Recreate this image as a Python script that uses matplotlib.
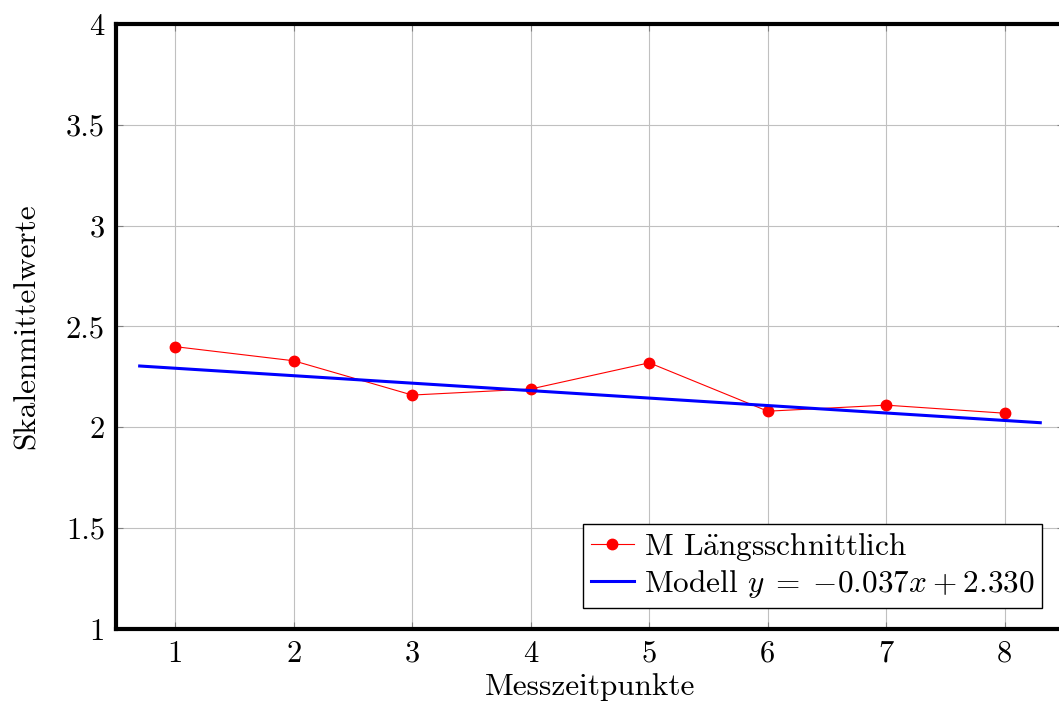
import matplotlib
matplotlib.use("Agg")
import matplotlib.pyplot as plt
import numpy as np

# Messzeitpunkte und Mittelwerte
zeitpunkte = [1, 2, 3, 4, 5, 6, 7, 8]
mittelwerte = [2.40, 2.33, 2.16, 2.19, 2.32, 2.08, 2.11, 2.07]
steigung = -0.037
achse = 2.330
modell_x = [0.7, 8.3]
yticks = [1, 1.5, 2, 2.5, 3, 3.5, 4]

plt.rcParams['font.family'] = ['cmr10', 'DejaVu Serif']
plt.rcParams['mathtext.fontset'] = 'cm'
plt.rcParams['axes.unicode_minus'] = False
plt.rcParams['font.size'] = 22.5

fig = plt.figure(figsize=(10.59, 7.08), dpi=100)
ax = fig.add_axes([0.1095, 0.1116, 0.8952, 0.8545])

ax.grid(True, color="#c0c0c0", linewidth=0.8)
ax.set_axisbelow(True)

ax.plot(zeitpunkte, mittelwerte, color="red", linewidth=0.8, marker="o",
        markersize=7.5, label=r"M L$\ddot{\mathrm{a}}$ngsschnittlich")
mx = np.array(modell_x)
ax.plot(mx, steigung * mx + achse, color="blue", linewidth=2.2,
        label=r"Modell $y\;=\;{-}0.037x\:+\:2.330$")

ax.set_xlim(0.5, 8.5)
ax.set_ylim(1, 4)
ax.set_xticks(zeitpunkte)
ax.set_xticklabels([str(z) for z in zeitpunkte])
ax.set_yticks(yticks)
ax.set_yticklabels(["%g" % v for v in yticks])
ax.tick_params(direction="in", length=5, width=0.8, color="#808080",
               top=True, right=True, pad=8, labelsize=22)

for s in ax.spines.values():
    s.set_linewidth(3)

ax.set_xlabel("Messzeitpunkte", fontsize=22.5, labelpad=4)
ax.set_ylabel("Skalenmittelwerte", fontsize=22.5, labelpad=18)

leg = ax.legend(loc="lower right", bbox_to_anchor=(0.977, 0.035), fancybox=False,
                edgecolor="black", framealpha=1, fontsize=22.5, handlelength=1.4,
                handletextpad=0.3, borderpad=0.25, labelspacing=0.15, borderaxespad=0)
leg.get_frame().set_linewidth(1)

fig.savefig("out.png", dpi=100)
